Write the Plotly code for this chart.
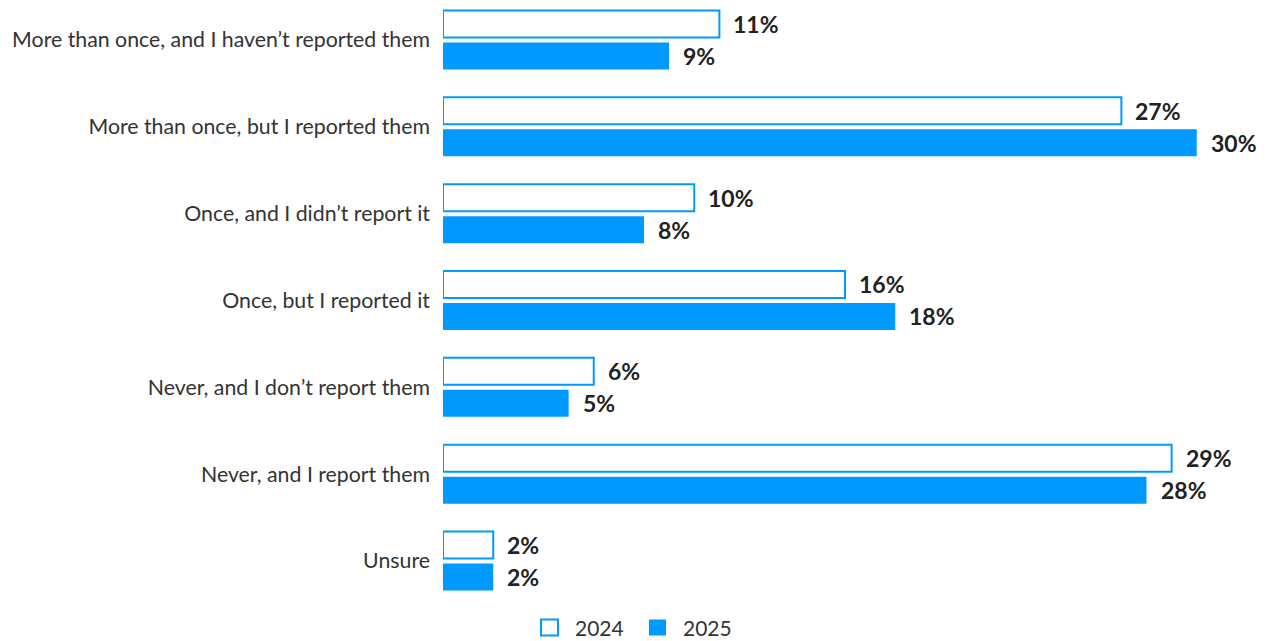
import plotly.graph_objects as go

# Survey responses, share of respondents (%)
categories = [
    "More than once, and I haven\u2019t reported them",
    "More than once, but I reported them",
    "Once, and I didn\u2019t report it",
    "Once, but I reported it",
    "Never, and I don\u2019t report them",
    "Never, and I report them",
    "Unsure",
]
values_2024 = [11, 27, 10, 16, 6, 29, 2]
values_2025 = [9, 30, 8, 18, 5, 28, 2]
series_names = ["2024", "2025"]

BLUE = "#0099ff"
LABEL_COLOR = "#222222"
TEXT_COLOR = "#333333"
FONT = "Lato, 'Open Sans', sans-serif"

W, H = 1267, 641
M_L, M_R, M_T, M_B = 443, 20, 0, 40
PLOT_W = W - M_L - M_R
PLOT_H = H - M_T - M_B

# category spacing in pixels and the first category's centre
ROW = 86.83
FIRST_ROW_Y = 40


def px_x(p):
    """Horizontal pixel position -> paper coordinate."""
    return (p - M_L) / PLOT_W


def px_y(p):
    """Vertical pixel position (from top) -> paper coordinate."""
    return 1 - (p - M_T) / PLOT_H


fig = go.Figure()
fig.add_trace(go.Bar(
    name=series_names[0], y=categories, x=values_2024, orientation="h",
    marker=dict(color="#ffffff", line=dict(color=BLUE, width=2)),
    hoverinfo="skip", showlegend=False,
))
fig.add_trace(go.Bar(
    name=series_names[1], y=categories, x=values_2025, orientation="h",
    marker=dict(color=BLUE, line=dict(color=BLUE, width=0)),
    hoverinfo="skip", showlegend=False,
))

# value labels to the right of each bar
annotations = []
for vals, shift in ((values_2024, 16), (values_2025, -16)):
    for cat, v in zip(categories, vals):
        annotations.append(dict(
            x=v, y=cat, xref="x", yref="y", text=f"<b>{v}%</b>",
            showarrow=False, xanchor="left", yanchor="middle",
            xshift=12, yshift=shift,
            font=dict(family=FONT, size=23, color=LABEL_COLOR),
        ))

# legend: square swatch + year, centred below the bars
shapes = []
legend_items = [
    (series_names[0], 541, dict(fillcolor="#ffffff", line=dict(color=BLUE, width=2))),
    (series_names[1], 649, dict(fillcolor=BLUE, line=dict(color=BLUE, width=0))),
]
for name, x0, style in legend_items:
    shapes.append(dict(
        type="rect", xref="paper", yref="paper",
        x0=px_x(x0), x1=px_x(x0 + 17), y0=px_y(619.5), y1=px_y(635.5),
        **style,
    ))
    annotations.append(dict(
        x=px_x(x0 + 32), y=px_y(627.5), xref="paper", yref="paper",
        text=name, showarrow=False, xanchor="left", yanchor="middle",
        font=dict(family=FONT, size=21, color=TEXT_COLOR),
    ))

y_top = -(FIRST_ROW_Y - M_T) / ROW
y_bottom = y_top + PLOT_H / ROW

fig.update_layout(
    width=W, height=H,
    margin=dict(l=M_L, r=M_R, t=M_T, b=M_B),
    paper_bgcolor="white", plot_bgcolor="white",
    barmode="group", bargap=0.263, bargroupgap=0.156,
    font=dict(family=FONT, size=21, color=TEXT_COLOR),
    showlegend=False,
    annotations=annotations,
    shapes=shapes,
)
fig.update_xaxes(range=[0, 32], visible=False, fixedrange=True)
fig.update_yaxes(
    type="category", range=[y_bottom, y_top],
    showgrid=False, zeroline=False, showline=False, ticks="",
    ticklabelstandoff=12,
    tickfont=dict(family=FONT, size=21.3, color=TEXT_COLOR),
)

fig.write_html("out.html")
